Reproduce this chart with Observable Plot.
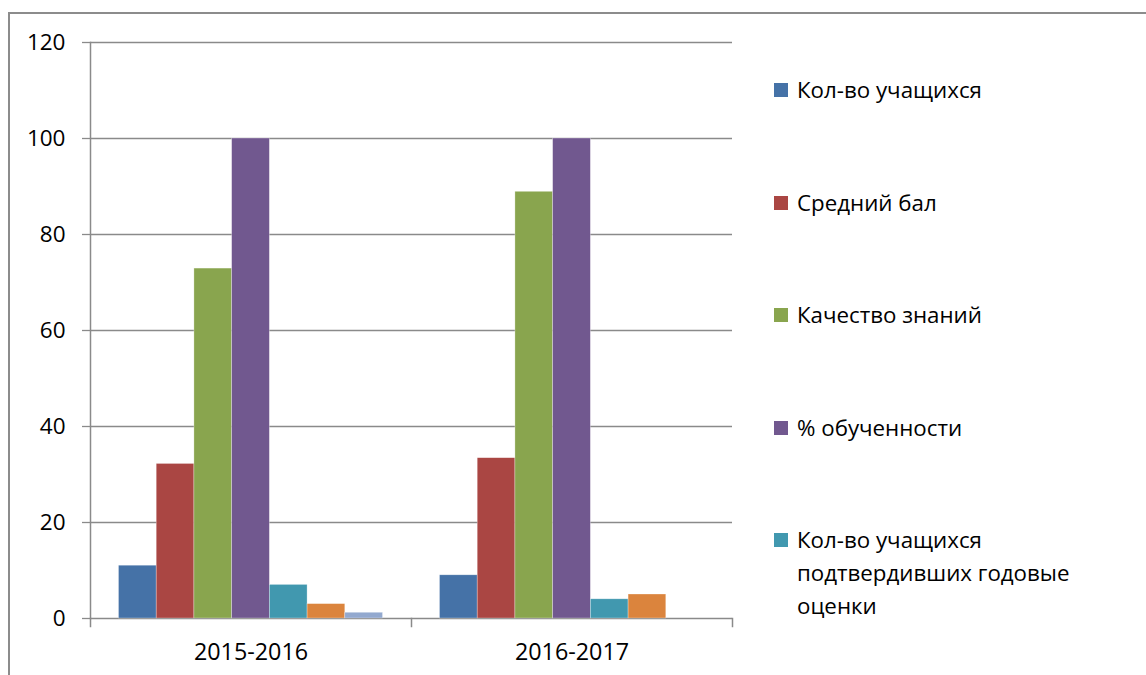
<!DOCTYPE html>
<html>
<head>
<meta charset="utf-8">
<script src="https://cdn.jsdelivr.net/npm/d3@7"></script>
<script src="https://cdn.jsdelivr.net/npm/@observablehq/plot@0.6"></script>
<style>
  html, body { margin: 0; padding: 0; background: #fff; }
  #wrap { position: relative; width: 1146px; height: 675px; overflow: hidden; font-family: "Open Sans", sans-serif; }
  #border { position: absolute; left: 8px; top: 12px; width: 1200px; height: 700px; border-left: 2px solid #8c8c8c; border-top: 2px solid #8c8c8c; box-sizing: border-box; }
  #chart { position: absolute; left: 0; top: 0; }
  #legend { position: absolute; left: 774px; top: 0; }
  .item { position: absolute; left: 0; width: 340px; display: flex; align-items: flex-start; }
  .sw { width: 14px; height: 14px; margin-top: 10px; flex: none; }
  .lab { margin-left: 9px; font-size: 22.3px; line-height: 33px; width: 305px; color: #000; }
</style>
</head>
<body>
<div id="wrap">
  <div id="border"></div>
  <div id="chart"></div>
  <div id="legend"></div>
</div>
<script>
const years = ["2015-2016", "2016-2017"];
const series = [
  "Кол-во учащихся",
  "Средний бал",
  "Качество знаний",
  "% обученности",
  "Кол-во учащихся подтвердивших годовые оценки",
  "Ряд 6",
  "Ряд 7"
];
const values2015 = [11, 32.2, 72.9, 100, 7, 3, 1.2];
const values2016 = [9, 33.4, 88.9, 100, 4, 5, 0];
const colors = ["#4572A7", "#AA4643", "#89A54E", "#71588F", "#4198AF", "#DB843D", "#93A9CF"];
const yTicks = [0, 20, 40, 60, 80, 100, 120];
const legendShown = 5;

const data = [];
series.forEach((s, i) => {
  data.push({year: years[0], series: s, value: values2015[i]});
  data.push({year: years[1], series: s, value: values2016[i]});
});

const axisColor = "#8a8a8a";

const chart = Plot.plot({
  width: 1146,
  height: 675,
  marginLeft: 90,
  marginRight: 414,
  marginTop: 42,
  marginBottom: 57,
  style: {fontFamily: "'Open Sans', sans-serif", fontSize: "22px", color: "#000", background: "transparent", overflow: "visible"},
  fx: {domain: years, padding: 0, label: null, axis: null},
  x: {domain: series, paddingInner: 0, paddingOuter: 0.755, round: false, axis: null},
  y: {domain: [0, 120], label: null, axis: null},
  color: {domain: series, range: colors},
  marks: [
    Plot.gridY(yTicks, {stroke: axisColor, strokeOpacity: 1, strokeWidth: 1.3}),
    Plot.barY(data.filter(d => d.value > 0), {fx: "year", x: "series", y: "value", fill: "series", stroke: "#fff", strokeWidth: 0.6, strokeOpacity: 0.5}),
    Plot.axisY(yTicks, {tickSize: 8, tickPadding: 17, stroke: axisColor, strokeWidth: 1.3, fontSize: 22.5, fill: "#000"}),
    Plot.frame({anchor: "left", facetAnchor: "left", stroke: axisColor, strokeWidth: 1.5, insetBottom: 0}),
    Plot.frame({anchor: "left", stroke: axisColor, strokeWidth: 1.5, insetTop: 576, insetBottom: -8}),
    Plot.frame({anchor: "right", facetAnchor: "right", stroke: axisColor, strokeWidth: 1.5, insetTop: 576, insetBottom: -8}),
    Plot.axisFx({anchor: "bottom", tickSize: 0, tickPadding: 25, fontSize: 23.3, fill: "#000", label: null})
  ]
});
document.getElementById("chart").appendChild(chart);

const legend = document.getElementById("legend");
series.slice(0, legendShown).forEach((s, i) => {
  const item = document.createElement("div");
  item.className = "item";
  item.style.top = (73 + i * 112.5) + "px";
  const sw = document.createElement("div");
  sw.className = "sw";
  sw.style.background = colors[i];
  const lab = document.createElement("div");
  lab.className = "lab";
  lab.textContent = s;
  item.appendChild(sw);
  item.appendChild(lab);
  legend.appendChild(item);
});
</script>
</body>
</html>
